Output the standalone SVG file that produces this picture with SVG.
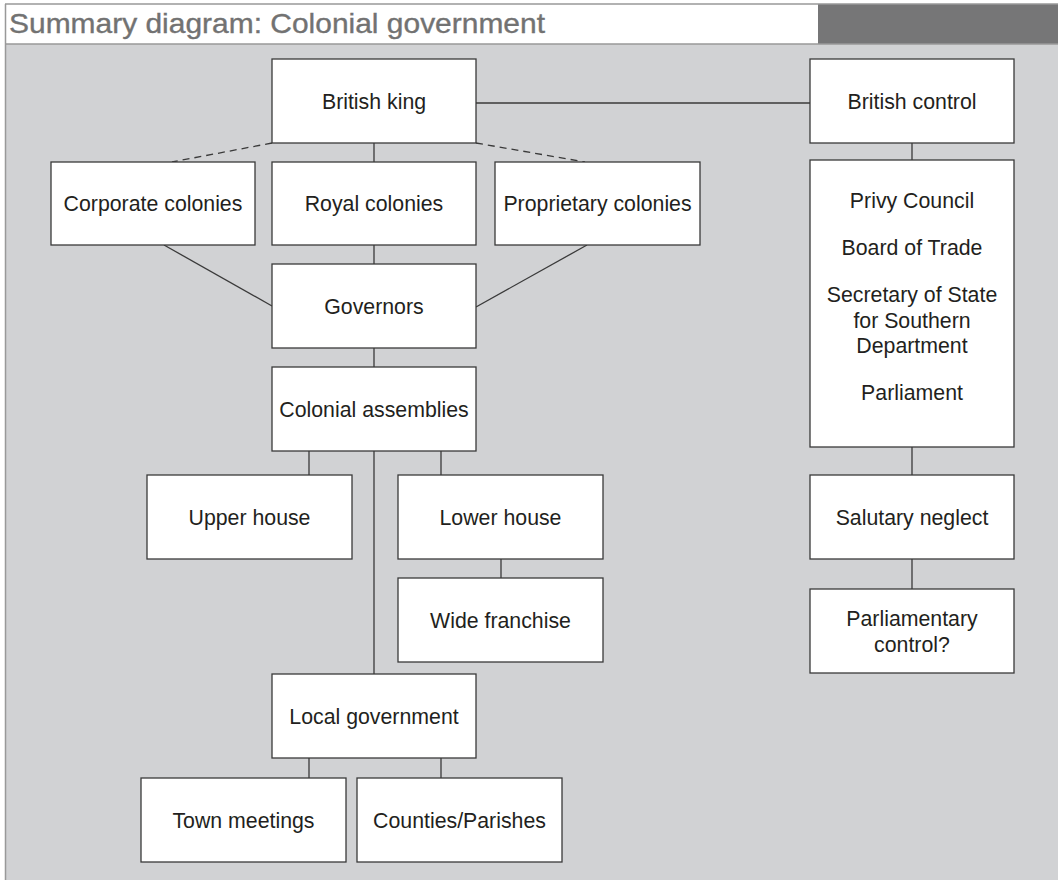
<svg xmlns="http://www.w3.org/2000/svg" width="1058" height="880" viewBox="0 0 1058 880">
  <style>
    .box { fill: #ffffff; stroke: #3a3a3a; stroke-width: 1.3; }
    .lbl { font-family: "Liberation Sans", Arial, sans-serif; font-size: 21.3px; fill: #231f20; text-anchor: middle; }
    .title { font-family: "Liberation Sans", Arial, sans-serif; font-size: 28px; fill: #727272; stroke: #727272; stroke-width: 0.35; }
    .conn line { stroke: #3a3a3a; stroke-width: 1.3; }
    .conn .dash { stroke-dasharray: 7 5; }
  </style>

  <!-- page background -->
  <rect x="0" y="0" width="1058" height="880" fill="#ffffff"/>
  <rect x="5" y="44" width="1053" height="836" fill="#d1d2d4"/>

  <!-- header band -->
  <g id="header">
    <rect x="5" y="4" width="813" height="40" fill="#ffffff"/>
    <rect x="818" y="4" width="240" height="40" fill="#767677"/>
    <line x1="5" y1="4" x2="1058" y2="4" stroke="#999999" stroke-width="1.5"/>
    <line x1="5" y1="44" x2="1058" y2="44" stroke="#999999" stroke-width="1.5"/>
    <line x1="5.5" y1="4" x2="5.5" y2="880" stroke="#999999" stroke-width="1.5"/>
    <text class="title" x="9" y="33" textLength="536" lengthAdjust="spacingAndGlyphs">Summary diagram: Colonial government</text>
  </g>

  <!-- connectors -->
  <g id="connectors" class="conn">
    <line x1="476" y1="103" x2="810" y2="103"/>
    <line x1="374" y1="143" x2="374" y2="162"/>
    <line class="dash" x1="272" y1="143" x2="172" y2="162"/>
    <line class="dash" x1="476" y1="143" x2="585" y2="162"/>
    <line x1="374" y1="245" x2="374" y2="264"/>
    <line x1="164" y1="245" x2="272" y2="306"/>
    <line x1="587" y1="245" x2="476" y2="307"/>
    <line x1="374" y1="348" x2="374" y2="367"/>
    <line x1="309" y1="451" x2="309" y2="475"/>
    <line x1="441" y1="451" x2="441" y2="475"/>
    <line x1="374" y1="451" x2="374" y2="674"/>
    <line x1="501" y1="559" x2="501" y2="578"/>
    <line x1="309" y1="758" x2="309" y2="778"/>
    <line x1="441" y1="758" x2="441" y2="778"/>
    <line x1="912" y1="143" x2="912" y2="160"/>
    <line x1="912" y1="447" x2="912" y2="475"/>
    <line x1="912" y1="559" x2="912" y2="589"/>
  </g>

  <!-- nodes -->
  <g id="british-king">
    <rect class="box" x="272" y="59" width="204" height="84"/>
    <text class="lbl" x="374" y="108.5">British king</text>
  </g>
  <g id="british-control">
    <rect class="box" x="810" y="59" width="204" height="84"/>
    <text class="lbl" x="912" y="108.5">British control</text>
  </g>
  <g id="corporate-colonies">
    <rect class="box" x="51" y="162" width="204" height="83"/>
    <text class="lbl" x="153" y="211">Corporate colonies</text>
  </g>
  <g id="royal-colonies">
    <rect class="box" x="272" y="162" width="204" height="83"/>
    <text class="lbl" x="374" y="211">Royal colonies</text>
  </g>
  <g id="proprietary-colonies">
    <rect class="box" x="495" y="162" width="205" height="83"/>
    <text class="lbl" x="597.5" y="211">Proprietary colonies</text>
  </g>
  <g id="governors">
    <rect class="box" x="272" y="264" width="204" height="84"/>
    <text class="lbl" x="374" y="313.5">Governors</text>
  </g>
  <g id="colonial-assemblies">
    <rect class="box" x="272" y="367" width="204" height="84"/>
    <text class="lbl" x="374" y="416.5">Colonial assemblies</text>
  </g>
  <g id="upper-house">
    <rect class="box" x="147" y="475" width="205" height="84"/>
    <text class="lbl" x="249.5" y="524.5">Upper house</text>
  </g>
  <g id="lower-house">
    <rect class="box" x="398" y="475" width="205" height="84"/>
    <text class="lbl" x="500.5" y="524.5">Lower house</text>
  </g>
  <g id="wide-franchise">
    <rect class="box" x="398" y="578" width="205" height="84"/>
    <text class="lbl" x="500.5" y="627.5">Wide franchise</text>
  </g>
  <g id="local-government">
    <rect class="box" x="272" y="674" width="204" height="84"/>
    <text class="lbl" x="374" y="723.5">Local government</text>
  </g>
  <g id="town-meetings">
    <rect class="box" x="141" y="778" width="205" height="84"/>
    <text class="lbl" x="243.5" y="827.5">Town meetings</text>
  </g>
  <g id="counties-parishes">
    <rect class="box" x="357" y="778" width="205" height="84"/>
    <text class="lbl" x="459.5" y="827.5">Counties/Parishes</text>
  </g>
  <g id="government-bodies">
    <rect class="box" x="810" y="160" width="204" height="287"/>
    <text class="lbl" x="912" y="208">Privy Council</text>
    <text class="lbl" x="912" y="255">Board of Trade</text>
    <text class="lbl" x="912" y="302">Secretary of State</text>
    <text class="lbl" x="912" y="328">for Southern</text>
    <text class="lbl" x="912" y="353">Department</text>
    <text class="lbl" x="912" y="400">Parliament</text>
  </g>
  <g id="salutary-neglect">
    <rect class="box" x="810" y="475" width="204" height="84"/>
    <text class="lbl" x="912" y="524.5">Salutary neglect</text>
  </g>
  <g id="parliamentary-control">
    <rect class="box" x="810" y="589" width="204" height="84"/>
    <text class="lbl" x="912" y="626">Parliamentary</text>
    <text class="lbl" x="912" y="652">control?</text>
  </g>
</svg>
